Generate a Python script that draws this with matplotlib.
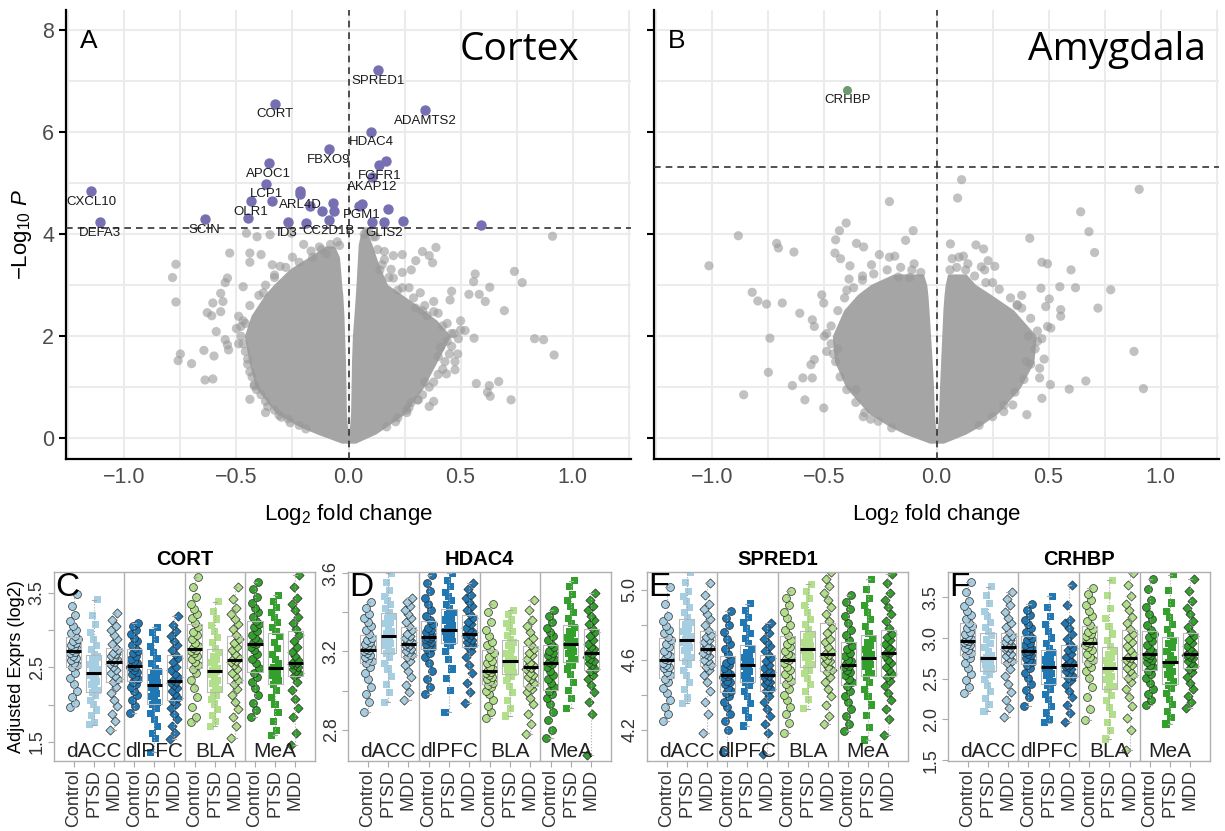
import numpy as np
import matplotlib.pyplot as plt

plt.rcParams['font.family'] = ['Liberation Sans', 'DejaVu Sans']
plt.rcParams['mathtext.fontset'] = 'custom'
plt.rcParams['mathtext.rm'] = 'Liberation Sans'
plt.rcParams['mathtext.it'] = 'Liberation Sans:italic'

# ---------------- volcano: cortex ----------------
cortex_cut = 4.12
cortex_genes = ['SPRED1', 'CORT', 'ADAMTS2', 'HDAC4', 'FBXO9', 'APOC1', 'FGFR1',
                'AKAP12', 'LCP1', 'CXCL10', 'OLR1', 'ARL4D', 'ID3', 'PGM1',
                'SCIN', 'DEFA3', 'CC2D1B', 'GLIS2']
cortex_fc = [0.132, -0.33, 0.343, 0.10, -0.087, -0.355, 0.138,
             0.105, -0.368, -1.147, -0.435, -0.215, -0.272, 0.058,
             -0.642, -1.107, -0.088, 0.16]
cortex_logp = [7.22, 6.56, 6.44, 6.01, 5.67, 5.39, 5.35,
               5.13, 4.99, 4.84, 4.65, 4.78, 4.24, 4.59,
               4.30, 4.24, 4.27, 4.23]
# significant genes without a label
cortex_sig_fc = [0.168, -0.215, -0.34, -0.07, -0.065, -0.173, -0.12, 0.175,
                 0.045, 0.103, -0.188, -0.45, 0.242, 0.59]
cortex_sig_logp = [5.43, 4.84, 4.65, 4.61, 4.46, 4.56, 4.45, 4.49,
                   4.55, 4.24, 4.22, 4.32, 4.26, 4.18]
cortex_bg_fc = [0.91, -0.77, -0.785, -0.77, -0.53, -0.55, -0.54, -0.47, -0.57, -0.56,
                -0.605, -0.63, -0.61, -0.57, -0.59, -0.55, -0.54, -0.535, -0.645, -0.60,
                -0.75, -0.76, -0.70, -0.64, -0.605, -0.44, -0.37, -0.30, -0.49, -0.48,
                -0.44, -0.39, -0.44, -0.34, -0.305, -0.455, -0.408, -0.35, -0.255, -0.167,
                -0.20, -0.13, -0.25, -0.46, -0.47, -0.44, -0.42, -0.38, -0.33, -0.36,
                0.39, 0.33, 0.36, 0.375, 0.30, 0.20, 0.16, 0.16, 0.19, 0.20,
                0.565, 0.558, 0.537, 0.583, 0.63, 0.61, 0.74, 0.775, 0.695, 0.46,
                0.453, 0.38, 0.38, 0.83, 0.87, 0.917, 0.56, 0.50, 0.52, 0.487,
                0.475, 0.475, 0.437, 0.57, 0.628, 0.67, 0.62, 0.632, 0.725, 0.31,
                0.36, 0.38, 0.27, 0.32, 0.24, 0.09, 0.07, 0.12, 0.24, 0.28,
                0.44, 0.40, 0.34, 0.28, 0.42, 0.33, 0.22, 0.46, 0.41, 0.26,
                # fringe around the dense cloud
                -0.47, -0.48, -0.46, -0.45, -0.43, -0.41, -0.37, -0.33, -0.27, -0.22,
                -0.44, -0.40, -0.37, -0.33, -0.28, -0.22, -0.16, -0.12, -0.08, -0.05,
                -0.50, -0.49, -0.45, -0.42, -0.39, -0.31, -0.26, -0.19, -0.10, -0.04,
                0.47, 0.46, 0.43, 0.40, 0.36, 0.31, 0.26, 0.21, 0.44, 0.40,
                0.34, 0.29, 0.24, 0.18, 0.15, 0.13, 0.11, 0.08, 0.49, 0.45,
                0.42, 0.38, 0.33, 0.27, 0.22, 0.17, 0.14, 0.50, 0.35, 0.30]
cortex_bg_logp = [3.96, 3.41, 3.15, 2.67, 3.63, 3.05, 3.14, 2.97, 2.84, 2.68,
                  2.65, 2.46, 2.40, 2.48, 2.09, 1.93, 1.83, 1.73, 1.72, 1.61,
                  1.65, 1.52, 1.46, 1.14, 1.16, 0.76, 0.50, 0.41, 2.39, 2.19,
                  3.63, 3.60, 3.45, 3.40, 3.37, 4.02, 3.95, 3.99, 4.02, 3.67,
                  3.80, 3.75, 3.55, 2.25, 1.85, 1.30, 1.02, 2.85, 3.15, 0.62,
                  3.74, 3.66, 3.58, 3.44, 3.48, 3.58, 3.66, 3.50, 3.31, 3.14,
                  3.22, 3.07, 2.82, 2.82, 2.96, 2.68, 3.27, 3.05, 2.50, 2.88,
                  2.71, 2.68, 2.48, 1.95, 1.93, 1.63, 1.96, 2.12, 2.11, 1.65,
                  1.50, 1.34, 1.26, 1.07, 1.03, 1.11, 0.90, 0.82, 0.75, 0.75,
                  0.62, 0.72, 2.95, 2.85, 3.25, 4.05, 4.00, 3.95, 3.60, 3.30,
                  1.90, 1.60, 1.10, 0.70, 2.20, 2.50, 2.90, 2.05, 1.78, 0.55,
                  2.30, 2.00, 1.70, 1.45, 1.20, 0.95, 0.72, 0.55, 0.38, 0.25,
                  2.60, 2.80, 3.00, 3.20, 3.35, 3.45, 3.55, 3.70, 3.80, 3.85,
                  2.15, 1.85, 1.55, 1.05, 0.85, 0.45, 0.30, 0.18, 3.62, 3.78,
                  2.05, 1.80, 1.50, 1.25, 1.00, 0.75, 0.50, 0.32, 2.25, 2.45,
                  2.60, 2.75, 2.95, 3.15, 3.40, 3.70, 3.95, 4.05, 1.95, 1.65,
                  1.35, 1.10, 0.85, 0.60, 0.40, 0.22, 3.30, 2.30, 2.40, 2.55]
# outline of the dense cloud of non-significant genes (two lobes)
cortex_left_y = [-0.08, 0.1, 0.25, 0.5, 1.0, 1.5, 2.0, 2.4, 2.8, 3.0, 3.3, 3.55, 3.75]
cortex_left_outer = [-0.03, -0.14, -0.22, -0.32, -0.41, -0.44, -0.46, -0.43, -0.37, -0.33,
                     -0.26, -0.17, -0.10]
cortex_left_inner = [0.0, -0.005, -0.01, -0.014, -0.016, -0.018, -0.022, -0.025, -0.03,
                     -0.035, -0.04, -0.045, -0.065]
cortex_right_y = [-0.08, 0.1, 0.25, 0.5, 1.0, 1.5, 2.0, 2.3, 2.6, 3.0, 3.4, 3.8, 4.0]
cortex_right_inner = [0.0, 0.005, 0.01, 0.014, 0.016, 0.018, 0.022, 0.027, 0.032, 0.038,
                      0.043, 0.048, 0.058]
cortex_right_outer = [0.03, 0.12, 0.17, 0.25, 0.33, 0.39, 0.45, 0.39, 0.30, 0.17, 0.13,
                      0.10, 0.08]

# ---------------- volcano: amygdala ----------------
amyg_cut = 5.31
amyg_genes = ['CRHBP']
amyg_fc = [-0.398]
amyg_logp = [6.83]
amyg_bg_fc = [0.112, 0.094, 0.904, -0.21, 0.643, 0.68, 0.416, 0.705, -0.403, -0.433,
              -0.45, -0.453, -0.428, -0.386, -0.357, -0.325, -0.104, -0.138, -0.884, -0.713,
              -0.705, -0.636, -1.015, -0.255, -0.21, -0.186, -0.10, -0.29, -0.33, -0.39,
              -0.17, -0.12, 0.062, 0.176, 0.21, 0.07, 0.10, 0.12, 0.14, 0.23,
              0.26, 0.20, 0.215, 0.47, 0.495, 0.60, 0.62, 0.55, 0.777, 0.72,
              0.503, 0.487, 0.554, 0.554, 0.495, 0.51, 0.466, 0.666, 0.592, 0.508,
              0.47, 0.403, 0.881, 0.923, 0.46, 0.46, 0.41, 0.45, -0.822, -0.797,
              -0.758, -0.688, -0.743, -0.75, -0.86, -0.643, -0.596, -0.554, -0.587, -0.503,
              -0.61, -0.554, -0.545, -0.56, -0.545, -0.512, -0.503, -0.327, -0.294, -0.49,
              -0.50, 0.30, 0.34, 0.38, -0.40, -0.44, -0.36, 0.36, 0.40, 0.25,
              # fringe around the dense cloud
              -0.47, -0.47, -0.45, -0.43, -0.40, -0.36, -0.32, -0.26, -0.20, -0.44,
              -0.41, -0.37, -0.33, -0.28, -0.22, -0.16, -0.11, -0.07, -0.49, -0.46,
              0.45, 0.44, 0.42, 0.39, 0.35, 0.30, 0.25, 0.19, 0.42, 0.38,
              0.33, 0.28, 0.22, 0.17, 0.13, 0.09, 0.06, 0.47, 0.48, 0.36]
amyg_bg_logp = [5.07, 4.71, 4.88, 4.64, 4.44, 4.05, 3.92, 3.64, 4.22, 4.07,
                3.89, 3.63, 3.52, 3.38, 3.82, 3.75, 4.07, 3.88, 3.97, 3.82,
                3.73, 3.65, 3.38, 3.60, 3.55, 3.57, 3.42, 3.40, 3.18, 3.12,
                3.16, 3.15, 3.81, 3.79, 3.71, 3.52, 3.55, 3.57, 3.42, 3.48,
                3.37, 3.36, 3.30, 3.45, 3.42, 3.30, 2.95, 2.97, 2.91, 2.55,
                2.73, 2.58, 2.52, 2.39, 2.19, 2.16, 2.94, 1.12, 0.96, 1.05,
                0.78, 0.46, 1.70, 0.97, 1.37, 1.18, 2.00, 1.90, 2.86, 2.69,
                2.63, 2.65, 1.96, 1.29, 0.85, 1.03, 1.18, 1.18, 0.75, 0.59,
                2.45, 2.32, 2.19, 1.44, 1.54, 2.81, 2.65, 0.42, 0.37, 1.70,
                2.00, 0.52, 0.65, 2.80, 2.90, 1.75, 0.95, 2.60, 1.50, 3.05,
                2.20, 1.85, 1.50, 1.20, 0.95, 0.70, 0.50, 0.33, 0.20, 2.50,
                2.75, 2.95, 3.10, 3.22, 3.30, 3.35, 3.30, 3.25, 2.05, 1.65,
                2.10, 1.75, 1.45, 1.15, 0.90, 0.65, 0.42, 0.25, 2.35, 2.55,
                2.75, 2.92, 3.05, 3.18, 3.30, 3.35, 3.30, 1.95, 1.55, 2.62]
amyg_left_y = [-0.08, 0.1, 0.25, 0.5, 1.0, 1.5, 2.0, 2.5, 2.8, 3.0, 3.2]
amyg_left_outer = [-0.03, -0.14, -0.21, -0.30, -0.40, -0.45, -0.46, -0.41, -0.35, -0.29, -0.19]
amyg_left_inner = [0.0, -0.005, -0.01, -0.014, -0.018, -0.024, -0.031, -0.038, -0.043, -0.048, -0.062]
amyg_right_y = [-0.08, 0.1, 0.25, 0.5, 1.0, 1.5, 2.0, 2.5, 2.8, 3.0, 3.2]
amyg_right_inner = [0.0, 0.005, 0.01, 0.014, 0.018, 0.023, 0.028, 0.033, 0.038, 0.043, 0.053]
amyg_right_outer = [0.03, 0.13, 0.19, 0.27, 0.37, 0.43, 0.44, 0.34, 0.24, 0.17, 0.13]

# ---------------- expression per region x diagnosis ----------------
regions = ['dACC', 'dlPFC', 'BLA', 'MeA']
diagnoses = ['Control', 'PTSD', 'MDD']
region_colors = ['#A6CEE3', '#1F78B4', '#B2DF8A', '#33A02C']

cort_expr = [
    [1.97, 2.02, 2.10, 2.19, 2.28, 2.36, 2.43, 2.50, 2.53, 2.56, 2.60, 2.63, 2.66, 2.69, 2.71, 2.73, 2.75, 2.78, 2.80, 2.83, 2.86, 2.88, 2.92, 2.96, 3.00, 3.05, 3.12, 3.20, 3.33, 3.48],
    [1.73, 1.76, 1.85, 1.93, 2.00, 2.06, 2.12, 2.16, 2.19, 2.23, 2.27, 2.31, 2.35, 2.39, 2.41, 2.44, 2.47, 2.50, 2.54, 2.57, 2.61, 2.64, 2.68, 2.74, 2.80, 2.88, 2.97, 3.08, 3.20, 3.41],
    [1.66, 1.78, 1.87, 1.98, 2.07, 2.16, 2.24, 2.30, 2.34, 2.38, 2.43, 2.47, 2.51, 2.55, 2.57, 2.59, 2.61, 2.63, 2.66, 2.68, 2.70, 2.73, 2.77, 2.82, 2.88, 2.94, 3.00, 3.06, 3.14, 3.23],
    [1.89, 1.98, 2.06, 2.13, 2.19, 2.24, 2.28, 2.31, 2.34, 2.37, 2.41, 2.44, 2.47, 2.50, 2.51, 2.53, 2.56, 2.59, 2.62, 2.66, 2.69, 2.72, 2.76, 2.80, 2.85, 2.90, 2.95, 3.00, 3.05, 3.09],
    [1.36, 1.55, 1.62, 1.71, 1.80, 1.88, 1.95, 2.00, 2.03, 2.07, 2.11, 2.15, 2.19, 2.23, 2.25, 2.27, 2.30, 2.33, 2.36, 2.39, 2.42, 2.44, 2.49, 2.55, 2.62, 2.70, 2.78, 2.88, 2.97, 3.04],
    [1.54, 1.62, 1.72, 1.81, 1.88, 1.95, 2.01, 2.05, 2.09, 2.14, 2.18, 2.22, 2.26, 2.29, 2.31, 2.33, 2.37, 2.41, 2.46, 2.51, 2.57, 2.63, 2.68, 2.74, 2.80, 2.86, 2.92, 2.99, 3.07, 3.19],
    [1.77, 1.84, 1.97, 2.10, 2.22, 2.33, 2.42, 2.48, 2.53, 2.58, 2.62, 2.66, 2.69, 2.72, 2.74, 2.76, 2.79, 2.83, 2.88, 2.93, 2.98, 3.04, 3.10, 3.16, 3.22, 3.28, 3.35, 3.45, 3.58, 3.72],
    [1.71, 1.78, 1.86, 1.94, 2.01, 2.07, 2.13, 2.16, 2.20, 2.25, 2.29, 2.33, 2.37, 2.41, 2.44, 2.46, 2.49, 2.53, 2.57, 2.61, 2.65, 2.70, 2.76, 2.83, 2.90, 2.98, 3.06, 3.15, 3.25, 3.38],
    [1.56, 1.72, 1.83, 1.94, 2.04, 2.13, 2.21, 2.28, 2.33, 2.38, 2.43, 2.48, 2.53, 2.57, 2.59, 2.61, 2.64, 2.68, 2.73, 2.78, 2.83, 2.88, 2.94, 3.01, 3.08, 3.15, 3.22, 3.30, 3.42, 3.58],
    [1.84, 1.93, 2.03, 2.13, 2.22, 2.30, 2.37, 2.43, 2.49, 2.56, 2.62, 2.68, 2.73, 2.78, 2.81, 2.83, 2.86, 2.90, 2.94, 2.99, 3.04, 3.08, 3.13, 3.18, 3.24, 3.30, 3.37, 3.45, 3.55, 3.65],
    [1.59, 1.66, 1.78, 1.90, 2.00, 2.10, 2.19, 2.27, 2.32, 2.36, 2.39, 2.42, 2.45, 2.47, 2.48, 2.50, 2.55, 2.61, 2.68, 2.75, 2.83, 2.92, 2.98, 3.04, 3.10, 3.17, 3.24, 3.31, 3.39, 3.47],
    [1.46, 1.62, 1.83, 1.95, 2.08, 2.20, 2.30, 2.38, 2.42, 2.45, 2.48, 2.51, 2.53, 2.55, 2.56, 2.57, 2.60, 2.65, 2.71, 2.78, 2.86, 2.94, 3.01, 3.09, 3.18, 3.27, 3.35, 3.43, 3.58, 3.74],
]
hdac4_expr = [
    [2.89, 2.94, 2.98, 3.02, 3.06, 3.09, 3.12, 3.14, 3.15, 3.16, 3.17, 3.18, 3.19, 3.20, 3.205, 3.21, 3.22, 3.23, 3.24, 3.25, 3.26, 3.27, 3.29, 3.31, 3.33, 3.35, 3.37, 3.39, 3.42, 3.45],
    [2.94, 2.99, 3.03, 3.07, 3.11, 3.14, 3.17, 3.19, 3.20, 3.22, 3.23, 3.24, 3.25, 3.26, 3.27, 3.29, 3.30, 3.32, 3.34, 3.35, 3.37, 3.38, 3.40, 3.42, 3.44, 3.46, 3.48, 3.51, 3.55, 3.60],
    [2.95, 2.99, 3.03, 3.07, 3.10, 3.13, 3.15, 3.17, 3.18, 3.19, 3.20, 3.21, 3.22, 3.23, 3.235, 3.245, 3.25, 3.26, 3.27, 3.28, 3.29, 3.31, 3.33, 3.35, 3.37, 3.39, 3.41, 3.43, 3.45, 3.47],
    [2.98, 3.02, 3.06, 3.10, 3.14, 3.17, 3.19, 3.21, 3.22, 3.23, 3.24, 3.25, 3.26, 3.265, 3.27, 3.275, 3.28, 3.29, 3.30, 3.31, 3.32, 3.34, 3.36, 3.38, 3.41, 3.44, 3.47, 3.51, 3.55, 3.59],
    [2.89, 3.00, 3.06, 3.11, 3.16, 3.20, 3.23, 3.24, 3.25, 3.26, 3.27, 3.28, 3.29, 3.30, 3.305, 3.315, 3.33, 3.34, 3.36, 3.37, 3.39, 3.40, 3.42, 3.44, 3.46, 3.48, 3.50, 3.53, 3.56, 3.60],
    [2.935, 2.99, 3.04, 3.09, 3.13, 3.17, 3.20, 3.22, 3.23, 3.24, 3.25, 3.26, 3.27, 3.28, 3.285, 3.295, 3.30, 3.31, 3.32, 3.34, 3.35, 3.37, 3.39, 3.41, 3.43, 3.45, 3.47, 3.49, 3.52, 3.55],
    [2.86, 2.89, 2.92, 2.95, 2.98, 3.00, 3.02, 3.03, 3.04, 3.05, 3.06, 3.07, 3.08, 3.09, 3.095, 3.105, 3.11, 3.12, 3.14, 3.15, 3.17, 3.19, 3.21, 3.23, 3.25, 3.28, 3.31, 3.35, 3.40, 3.44],
    [2.87, 2.91, 2.95, 2.99, 3.02, 3.05, 3.07, 3.08, 3.09, 3.10, 3.11, 3.12, 3.13, 3.14, 3.145, 3.155, 3.16, 3.18, 3.19, 3.21, 3.23, 3.245, 3.26, 3.28, 3.30, 3.32, 3.34, 3.36, 3.39, 3.41],
    [2.78, 2.83, 2.88, 2.93, 2.96, 2.99, 3.01, 3.02, 3.04, 3.06, 3.07, 3.08, 3.09, 3.11, 3.115, 3.125, 3.13, 3.14, 3.16, 3.18, 3.19, 3.21, 3.23, 3.25, 3.27, 3.30, 3.33, 3.36, 3.41, 3.46],
    [2.76, 2.80, 2.85, 2.89, 2.93, 2.96, 2.98, 3.00, 3.02, 3.04, 3.06, 3.08, 3.10, 3.12, 3.135, 3.145, 3.16, 3.17, 3.18, 3.19, 3.20, 3.22, 3.24, 3.26, 3.28, 3.30, 3.32, 3.35, 3.38, 3.41],
    [2.91, 2.96, 3.00, 3.04, 3.08, 3.11, 3.13, 3.14, 3.16, 3.17, 3.19, 3.20, 3.21, 3.23, 3.235, 3.245, 3.25, 3.26, 3.27, 3.29, 3.30, 3.32, 3.34, 3.37, 3.40, 3.43, 3.46, 3.49, 3.53, 3.56],
    [2.67, 2.88, 2.94, 2.99, 3.03, 3.06, 3.08, 3.10, 3.11, 3.13, 3.14, 3.15, 3.16, 3.17, 3.185, 3.195, 3.21, 3.22, 3.24, 3.26, 3.28, 3.30, 3.32, 3.34, 3.36, 3.38, 3.41, 3.43, 3.46, 3.50],
]
spred1_expr = [
    [4.25, 4.29, 4.33, 4.37, 4.41, 4.44, 4.47, 4.49, 4.51, 4.53, 4.55, 4.56, 4.57, 4.58, 4.595, 4.605, 4.62, 4.63, 4.65, 4.67, 4.69, 4.71, 4.73, 4.75, 4.77, 4.79, 4.82, 4.85, 4.92, 5.015],
    [4.35, 4.38, 4.43, 4.47, 4.51, 4.54, 4.57, 4.59, 4.61, 4.63, 4.65, 4.67, 4.68, 4.70, 4.705, 4.715, 4.73, 4.74, 4.76, 4.78, 4.80, 4.81, 4.84, 4.87, 4.90, 4.93, 4.96, 4.99, 5.04, 5.10],
    [4.18, 4.29, 4.36, 4.42, 4.47, 4.51, 4.54, 4.56, 4.57, 4.59, 4.60, 4.62, 4.63, 4.64, 4.655, 4.665, 4.67, 4.68, 4.70, 4.71, 4.73, 4.74, 4.77, 4.80, 4.83, 4.86, 4.89, 4.92, 4.97, 5.04],
    [4.07, 4.20, 4.25, 4.29, 4.33, 4.36, 4.39, 4.41, 4.42, 4.44, 4.46, 4.47, 4.48, 4.50, 4.505, 4.515, 4.52, 4.53, 4.55, 4.57, 4.58, 4.60, 4.63, 4.66, 4.69, 4.72, 4.76, 4.80, 4.84, 4.88],
    [4.22, 4.27, 4.31, 4.35, 4.39, 4.42, 4.45, 4.47, 4.48, 4.50, 4.51, 4.53, 4.54, 4.56, 4.565, 4.575, 4.59, 4.60, 4.61, 4.63, 4.64, 4.66, 4.69, 4.72, 4.75, 4.78, 4.81, 4.84, 4.88, 4.92],
    [4.06, 4.18, 4.23, 4.28, 4.32, 4.36, 4.39, 4.42, 4.43, 4.45, 4.46, 4.47, 4.48, 4.50, 4.505, 4.515, 4.53, 4.54, 4.55, 4.57, 4.59, 4.61, 4.63, 4.65, 4.68, 4.70, 4.72, 4.75, 4.78, 4.81],
    [4.18, 4.24, 4.29, 4.33, 4.37, 4.40, 4.43, 4.46, 4.48, 4.50, 4.52, 4.54, 4.56, 4.58, 4.595, 4.605, 4.62, 4.63, 4.65, 4.67, 4.69, 4.71, 4.74, 4.77, 4.80, 4.84, 4.87, 4.91, 4.95, 4.99],
    [4.32, 4.37, 4.42, 4.46, 4.49, 4.52, 4.54, 4.55, 4.57, 4.59, 4.61, 4.62, 4.63, 4.65, 4.655, 4.665, 4.68, 4.69, 4.70, 4.72, 4.73, 4.745, 4.77, 4.80, 4.83, 4.87, 4.91, 4.95, 4.99, 5.03],
    [4.23, 4.28, 4.34, 4.39, 4.43, 4.47, 4.50, 4.53, 4.54, 4.56, 4.58, 4.59, 4.60, 4.62, 4.625, 4.635, 4.65, 4.67, 4.70, 4.72, 4.75, 4.78, 4.82, 4.86, 4.90, 4.94, 4.98, 5.02, 5.06, 5.10],
    [4.19, 4.23, 4.28, 4.32, 4.36, 4.39, 4.42, 4.45, 4.47, 4.49, 4.51, 4.53, 4.54, 4.56, 4.565, 4.575, 4.59, 4.60, 4.62, 4.64, 4.66, 4.68, 4.71, 4.74, 4.77, 4.81, 4.85, 4.89, 4.93, 4.97],
    [4.14, 4.21, 4.28, 4.34, 4.39, 4.43, 4.47, 4.50, 4.52, 4.54, 4.56, 4.57, 4.58, 4.60, 4.605, 4.615, 4.63, 4.64, 4.66, 4.68, 4.70, 4.72, 4.75, 4.79, 4.83, 4.87, 4.91, 4.95, 5.00, 5.06],
    [4.17, 4.26, 4.32, 4.37, 4.41, 4.45, 4.48, 4.50, 4.52, 4.54, 4.56, 4.58, 4.60, 4.62, 4.635, 4.645, 4.66, 4.67, 4.69, 4.71, 4.73, 4.745, 4.78, 4.82, 4.86, 4.90, 4.94, 4.98, 5.04, 5.09],
]
crhbp_expr = [
    [2.32, 2.40, 2.48, 2.56, 2.63, 2.69, 2.75, 2.79, 2.82, 2.85, 2.88, 2.91, 2.93, 2.95, 2.96, 2.97, 2.99, 3.02, 3.05, 3.08, 3.12, 3.15, 3.19, 3.23, 3.28, 3.33, 3.39, 3.46, 3.57, 3.69],
    [2.10, 2.18, 2.26, 2.34, 2.42, 2.49, 2.55, 2.59, 2.62, 2.65, 2.68, 2.70, 2.72, 2.74, 2.755, 2.765, 2.79, 2.83, 2.88, 2.93, 2.98, 3.03, 3.08, 3.13, 3.19, 3.26, 3.33, 3.42, 3.52, 3.63],
    [2.03, 2.14, 2.24, 2.34, 2.44, 2.53, 2.62, 2.69, 2.72, 2.75, 2.78, 2.81, 2.84, 2.87, 2.88, 2.89, 2.91, 2.93, 2.95, 2.98, 3.00, 3.03, 3.08, 3.13, 3.19, 3.25, 3.32, 3.40, 3.48, 3.57],
    [2.16, 2.27, 2.36, 2.44, 2.51, 2.57, 2.63, 2.67, 2.70, 2.73, 2.76, 2.79, 2.81, 2.83, 2.835, 2.845, 2.86, 2.88, 2.91, 2.94, 2.97, 3.00, 3.04, 3.08, 3.12, 3.17, 3.22, 3.28, 3.35, 3.42],
    [1.96, 2.00, 2.08, 2.16, 2.24, 2.31, 2.37, 2.42, 2.46, 2.50, 2.54, 2.57, 2.60, 2.63, 2.635, 2.645, 2.67, 2.70, 2.73, 2.76, 2.79, 2.82, 2.87, 2.93, 3.00, 3.08, 3.17, 3.27, 3.38, 3.51],
    [1.97, 2.08, 2.18, 2.27, 2.35, 2.42, 2.48, 2.51, 2.54, 2.57, 2.60, 2.62, 2.64, 2.66, 2.665, 2.675, 2.70, 2.73, 2.77, 2.81, 2.85, 2.88, 2.93, 2.99, 3.05, 3.12, 3.18, 3.22, 3.40, 3.65],
    [1.99, 2.13, 2.28, 2.40, 2.51, 2.59, 2.65, 2.69, 2.73, 2.77, 2.81, 2.85, 2.89, 2.92, 2.94, 2.95, 2.97, 2.99, 3.02, 3.05, 3.08, 3.11, 3.16, 3.21, 3.27, 3.33, 3.40, 3.47, 3.54, 3.61],
    [1.76, 1.86, 1.96, 2.06, 2.15, 2.23, 2.30, 2.37, 2.41, 2.45, 2.49, 2.53, 2.57, 2.60, 2.625, 2.635, 2.66, 2.69, 2.72, 2.76, 2.80, 2.84, 2.90, 2.97, 3.05, 3.14, 3.24, 3.36, 3.52, 3.71],
    [1.63, 1.87, 2.02, 2.16, 2.28, 2.38, 2.46, 2.51, 2.55, 2.59, 2.63, 2.67, 2.70, 2.73, 2.755, 2.765, 2.80, 2.85, 2.90, 2.95, 3.00, 3.05, 3.11, 3.18, 3.26, 3.34, 3.42, 3.52, 3.65, 3.80],
    [2.18, 2.24, 2.31, 2.38, 2.45, 2.51, 2.56, 2.60, 2.64, 2.67, 2.70, 2.73, 2.76, 2.78, 2.795, 2.805, 2.83, 2.87, 2.91, 2.96, 3.01, 3.05, 3.10, 3.16, 3.23, 3.30, 3.38, 3.47, 3.60, 3.73],
    [1.945, 2.02, 2.10, 2.18, 2.25, 2.32, 2.38, 2.42, 2.46, 2.51, 2.55, 2.59, 2.63, 2.67, 2.695, 2.705, 2.74, 2.78, 2.83, 2.88, 2.93, 2.97, 3.03, 3.10, 3.17, 3.25, 3.33, 3.43, 3.58, 3.78],
    [2.14, 2.21, 2.29, 2.37, 2.45, 2.52, 2.58, 2.62, 2.66, 2.69, 2.72, 2.75, 2.77, 2.79, 2.795, 2.805, 2.83, 2.86, 2.90, 2.94, 2.98, 3.03, 3.08, 3.14, 3.21, 3.29, 3.37, 3.46, 3.58, 3.73],
]

GRID = '#EBEBEB'
TICK_TEXT = '#4D4D4D'
CLOUD = '#A5A5A5'


def draw_volcano(ax, bg_fc, bg_logp, lobes, cut, letter, tissue, tissue_x, show_ylabels):
    ax.set_xlim(-1.26, 1.26)
    ax.set_ylim(-0.41, 8.4)
    ax.set_xticks([-1.0, -0.5, 0.0, 0.5, 1.0])
    ax.set_xticks(np.arange(-1.25, 1.26, 0.25), minor=True)
    ax.set_yticks([0, 2, 4, 6, 8])
    ax.set_yticks([1, 3, 5, 7], minor=True)
    ax.grid(True, which='both', color=GRID, lw=1.5, zorder=0)
    ax.set_axisbelow(True)
    for side in ['top', 'right']:
        ax.spines[side].set_visible(False)
    for side in ['left', 'bottom']:
        ax.spines[side].set_linewidth(1.6)
    ax.tick_params(axis='x', which='both', length=0, labelsize=15.5,
                   labelcolor=TICK_TEXT, pad=6)
    ax.tick_params(axis='y', which='major', length=5, width=1.5,
                   labelsize=15.5, labelcolor=TICK_TEXT, labelleft=show_ylabels)
    ax.tick_params(axis='y', which='minor', length=0)

    # dense core of the cloud, with a slightly rounded edge
    for y, outer, inner in lobes:
        ax.fill_betweenx(y, outer, inner, facecolor=CLOUD, edgecolor=CLOUD,
                         lw=1.5, joinstyle='round', zorder=2)
    ax.scatter(bg_fc, bg_logp, s=44, color='#999999', alpha=0.6,
               edgecolors='none', zorder=2)

    ax.axhline(cut, color='#333333', lw=1.2, ls=(0, (4, 3)), zorder=3)
    ax.axvline(0, color='#333333', lw=1.2, ls=(0, (4, 3)), zorder=3)

    ax.set_xlabel(r'Log$_2$ fold change', fontsize=16, labelpad=10)
    ax.text(-1.2, 7.8, letter, fontsize=19, va='center', ha='left')
    ax.text(tissue_x, 7.62, tissue, fontsize=28,
            family=['Open Sans', 'DejaVu Sans'], ha='right', va='center')


fig = plt.figure(figsize=(12.25, 8.31), dpi=100)

ax_a = fig.add_axes([0.0539, 0.4477, 0.4612, 0.5403])
draw_volcano(ax_a, cortex_bg_fc, cortex_bg_logp,
             [(cortex_left_y, cortex_left_outer, cortex_left_inner),
              (cortex_right_y, cortex_right_inner, cortex_right_outer)],
             cortex_cut, 'A', 'Cortex', 1.03, True)
ax_a.set_ylabel(r'$-$Log$_{10}$ $\mathit{P}$', fontsize=16, labelpad=6)
ax_a.scatter(cortex_sig_fc, cortex_sig_logp, s=42, color='#7670B3', zorder=4)
ax_a.scatter(cortex_fc, cortex_logp, s=42, color='#7670B3', zorder=4)
for gene, x, y in zip(cortex_genes, cortex_fc, cortex_logp):
    ax_a.text(x, y - 0.21, gene, fontsize=9.5, color='#1A1A1A',
              ha='center', va='center', zorder=5)

ax_b = fig.add_axes([0.5339, 0.4477, 0.4612, 0.5403])
draw_volcano(ax_b, amyg_bg_fc, amyg_bg_logp,
             [(amyg_left_y, amyg_left_outer, amyg_left_inner),
              (amyg_right_y, amyg_right_inner, amyg_right_outer)],
             amyg_cut, 'B', 'Amygdala', 1.2, False)
ax_b.scatter(amyg_fc, amyg_logp, s=30, color='#6E9B6E', zorder=4)
for gene, x, y in zip(amyg_genes, amyg_fc, amyg_logp):
    ax_b.text(x, y - 0.2, gene, fontsize=9.5, color='#1A1A1A',
              ha='center', va='center', zorder=5)


def spread(n, half_width=0.2):
    # even horizontal spread so the points of a group do not stack
    k = np.arange(n)
    return ((k * 0.6180339) % 1.0 - 0.5) * 2 * half_width


markers = ['o', 's', 'D']
marker_sizes = [32, 26, 22]
marker_edges = ['#2A2A2A', 'none', '#2A2A2A']


def draw_strip(ax, values, title, letter, ylim, yticks, ylabels):
    positions = np.arange(1, len(values) + 1)
    for i, vals in enumerate(values):
        region, dx = divmod(i, 3)
        v = np.asarray(vals)
        ax.scatter(positions[i] + spread(len(v)), v, marker=markers[dx],
                   s=marker_sizes[dx], color=region_colors[region],
                   edgecolors=marker_edges[dx], linewidths=0.5, zorder=2)
    ax.boxplot(values, positions=positions, widths=0.75, whis=(0, 100),
               showfliers=False, manage_ticks=False, zorder=3,
               boxprops=dict(color='#B8B8B8', lw=0.8),
               whiskerprops=dict(color='#A8A8A8', lw=0.8, ls=':'),
               capprops=dict(color='#A8A8A8', lw=0.8), capwidths=0.2,
               medianprops=dict(color='black', lw=2.2))
    for sep in [3.5, 6.5, 9.5]:
        ax.axvline(sep, color='#B0B0B0', lw=1, zorder=1)
    for r, name in enumerate(regions):
        ax.text(3 * r + 2, ylim[0], name, fontsize=15, color='#222222',
                ha='center', va='bottom', zorder=4)
    ax.set_xlim(0.02, 12.98)
    ax.set_ylim(*ylim)
    ax.set_xticks(positions)
    ax.set_xticklabels(diagnoses * 4, rotation=90, fontsize=13, color='#333333')
    ax.set_yticks(yticks)
    ax.set_yticklabels(ylabels, rotation=90, va='center', fontsize=13,
                       color='#333333')
    ax.tick_params(length=4, color='#AAAAAA', pad=2)
    for s in ax.spines.values():
        s.set_color('#B0B0B0')
        s.set_linewidth(1)
    ax.set_title(title, fontsize=14.5, fontweight='bold', pad=5)
    ax.text(0.005, 1.0, letter, transform=ax.transAxes, fontsize=24,
            ha='left', va='top', zorder=5)


ax_c = fig.add_axes([0.0441, 0.0842, 0.2131, 0.2274])
draw_strip(ax_c, cort_expr, 'CORT', 'C', (1.245, 3.78),
           [1.5, 2.0, 2.5, 3.0, 3.5], ['1.5', '', '2.5', '', '3.5'])
ax_c.set_ylabel('Adjusted Exprs (log2)', fontsize=13, labelpad=3)

ax_d = fig.add_axes([0.2841, 0.0842, 0.2147, 0.2274])
draw_strip(ax_d, hdac4_expr, 'HDAC4', 'D', (2.64, 3.605),
           [2.8, 3.0, 3.2, 3.4, 3.6], ['2.8', '', '3.2', '', '3.6'])

ax_e = fig.add_axes([0.5282, 0.0842, 0.2131, 0.2274])
draw_strip(ax_e, spred1_expr, 'SPRED1', 'E', (4.02, 5.10),
           [4.2, 4.4, 4.6, 4.8, 5.0], ['4.2', '', '4.6', '', '5.0'])

ax_f = fig.add_axes([0.7739, 0.0842, 0.2139, 0.2274])
draw_strip(ax_f, crhbp_expr, 'CRHBP', 'F', (1.49, 3.81),
           [1.5, 2.0, 2.5, 3.0, 3.5], ['1.5', '2.0', '2.5', '3.0', '3.5'])

fig.savefig('out.png', dpi=100)
